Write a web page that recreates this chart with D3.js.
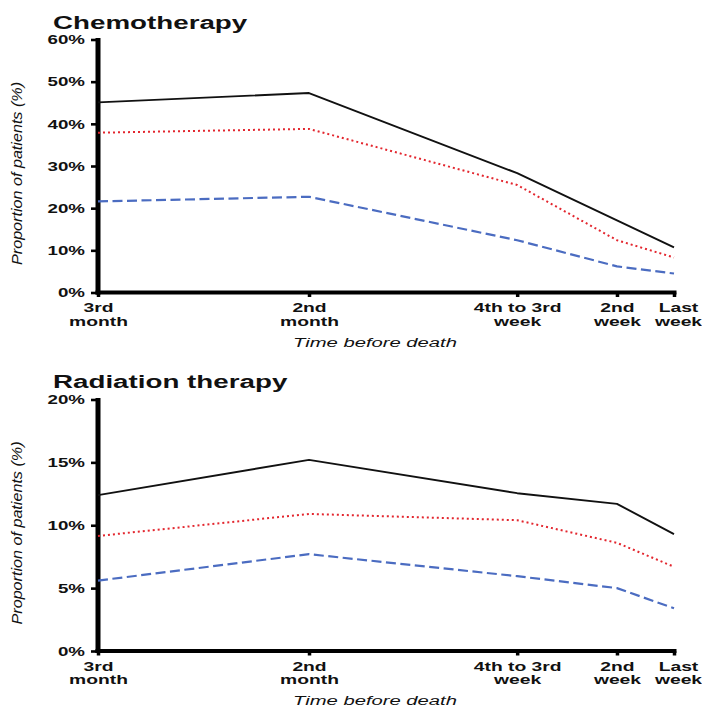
<!DOCTYPE html>
<html>
<head>
<meta charset="utf-8">
<script src="https://cdn.jsdelivr.net/npm/d3@7"></script>
<style>
  html, body { margin: 0; padding: 0; background: #fff; }
  svg { display: block; }
  text { font-family: "Liberation Sans", Arial, Helvetica, sans-serif; fill: #111; }
</style>
</head>
<body>
<svg id="fig" width="702" height="707"></svg>
<script>
// Time points before death (category labels, two lines each)
const periods = [["3rd", "month"], ["2nd", "month"], ["4th to 3rd", "week"], ["2nd", "week"], ["Last", "week"]];
// Approximate position of each period on the time axis, in weeks before death
const weeksBefore = [11.1, 7.4, 3.75, 2.0, 1.0];

// Chemotherapy: proportion of patients (%)
const chemoSolid  = [45.1, 47.3, 28.3, 17.1, 10.7];
const chemoDotted = [37.9, 38.8, 25.5, 12.4, 8.3];
const chemoDashed = [21.6, 22.7, 12.4, 6.2, 4.5];
const chemoTicks  = [0, 10, 20, 30, 40, 50, 60];

// Radiation therapy: proportion of patients (%)
const radioSolid  = [12.4, 15.2, 12.55, 11.7, 9.3];
const radioDotted = [9.15, 10.9, 10.4, 8.6, 6.7];
const radioDashed = [5.6, 7.7, 5.95, 5.0, 3.4];
const radioTicks  = [0, 5, 10, 15, 20];

const svg = d3.select("#fig");

const seriesStyles = [
  { color: "#111111", width: 1.9, dash: null },
  { color: "#e3262e", width: 2.0, dash: "2,3" },
  { color: "#4b6cc1", width: 2.2, dash: "10,4.5" }
];

function stretchText(sel, sx) {
  sel.each(function () {
    const t = d3.select(this);
    const x = +t.attr("x") || 0;
    const y = +t.attr("y") || 0;
    t.attr("x", 0).attr("y", 0)
     .attr("transform", `translate(${x},${y}) scale(${sx},1)`);
  });
}

function panel(opts) {
  const { title, top, bottom, yMax, ticks, series, titleY, yTitleCenter } = opts;
  const left = 98, right = 674;

  const x = d3.scaleLinear().domain([weeksBefore[0], weeksBefore[weeksBefore.length - 1]]).range([left, right]);
  const y = d3.scaleLinear().domain([0, yMax]).range([bottom, top]);

  const g = svg.append("g");

  // Panel title
  g.append("text")
    .attr("x", 53).attr("y", titleY)
    .attr("font-size", 18.5).attr("font-weight", "bold")
    .text(title)
    .call(stretchText, 1.5);

  // Y axis
  const yAxis = g.append("g")
    .attr("transform", `translate(${left},0)`)
    .call(d3.axisLeft(y).tickValues(ticks).tickSize(7).tickPadding(6)
      .tickFormat(d => d + "%"));
  yAxis.select(".domain").remove();
  yAxis.selectAll(".tick line").attr("stroke", "#000").attr("stroke-width", 2.6);
  yAxis.selectAll(".tick text")
    .attr("font-size", 12).attr("font-weight", "bold")
    .attr("font-family", null).attr("fill", "#111")
    .attr("dy", "0.36em")
    .each(function () {
      const t = d3.select(this);
      const dx = +t.attr("x");
      t.attr("x", 0).attr("transform", `translate(${dx},0) scale(1.56,1)`);
    });
  g.append("line")
    .attr("x1", left).attr("x2", left)
    .attr("y1", top - 1.5).attr("y2", bottom + 2)
    .attr("stroke", "#000").attr("stroke-width", 5);

  // X axis
  const xAxis = g.append("g")
    .attr("transform", `translate(0,${bottom})`)
    .call(d3.axisBottom(x).tickValues(weeksBefore).tickSize(4.5).tickPadding(0)
      .tickFormat(""));
  xAxis.select(".domain").remove();
  xAxis.selectAll(".tick line").attr("stroke", "#000").attr("stroke-width", 3.5);
  xAxis.selectAll(".tick text").remove();
  xAxis.selectAll(".tick").each(function (d, i) {
    // the last label sits slightly right of its tick
    const shift = i === periods.length - 1 ? 4 : 0;
    const lbl = d3.select(this).append("g").attr("transform", `translate(${shift},0) scale(1.46,1)`);
    periods[i].forEach((line, k) => {
      lbl.append("text")
        .attr("x", 0).attr("y", 20 + k * 13.5)
        .attr("text-anchor", "middle")
        .attr("font-size", 13.2).attr("font-weight", "bold")
        .text(line);
    });
  });
  g.append("line")
    .attr("x1", left - 2.5).attr("x2", right + 2.5)
    .attr("y1", bottom).attr("y2", bottom)
    .attr("stroke", "#000").attr("stroke-width", 4);

  // Axis titles
  g.append("text")
    .attr("x", 375).attr("y", bottom + 54)
    .attr("text-anchor", "middle")
    .attr("font-size", 13.5).attr("font-style", "italic")
    .attr("fill", "#222")
    .text("Time before death")
    .call(stretchText, 1.5);

  g.append("text")
    .attr("transform", `translate(22,${yTitleCenter}) rotate(-90)`)
    .attr("text-anchor", "middle")
    .attr("font-size", 14).attr("font-style", "italic")
    .attr("fill", "#222")
    .attr("textLength", 183).attr("lengthAdjust", "spacingAndGlyphs")
    .text("Proportion of patients (%)");

  // Series lines
  const line = d3.line().x((d, i) => x(weeksBefore[i])).y(d => y(d));
  series.forEach((vals, s) => {
    const st = seriesStyles[s];
    g.append("path")
      .datum(vals)
      .attr("d", line)
      .attr("fill", "none")
      .attr("stroke", st.color)
      .attr("stroke-width", st.width)
      .attr("stroke-dasharray", st.dash)
      .attr("stroke-linejoin", "round");
  });
}

panel({
  title: "Chemotherapy",
  top: 39.5, bottom: 292.5, yMax: 60, ticks: chemoTicks,
  series: [chemoSolid, chemoDotted, chemoDashed],
  titleY: 28.5, yTitleCenter: 173.5
});

panel({
  title: "Radiation therapy",
  top: 399.5, bottom: 651, yMax: 20, ticks: radioTicks,
  series: [radioSolid, radioDotted, radioDashed],
  titleY: 388, yTitleCenter: 533
});
</script>
</body>
</html>
